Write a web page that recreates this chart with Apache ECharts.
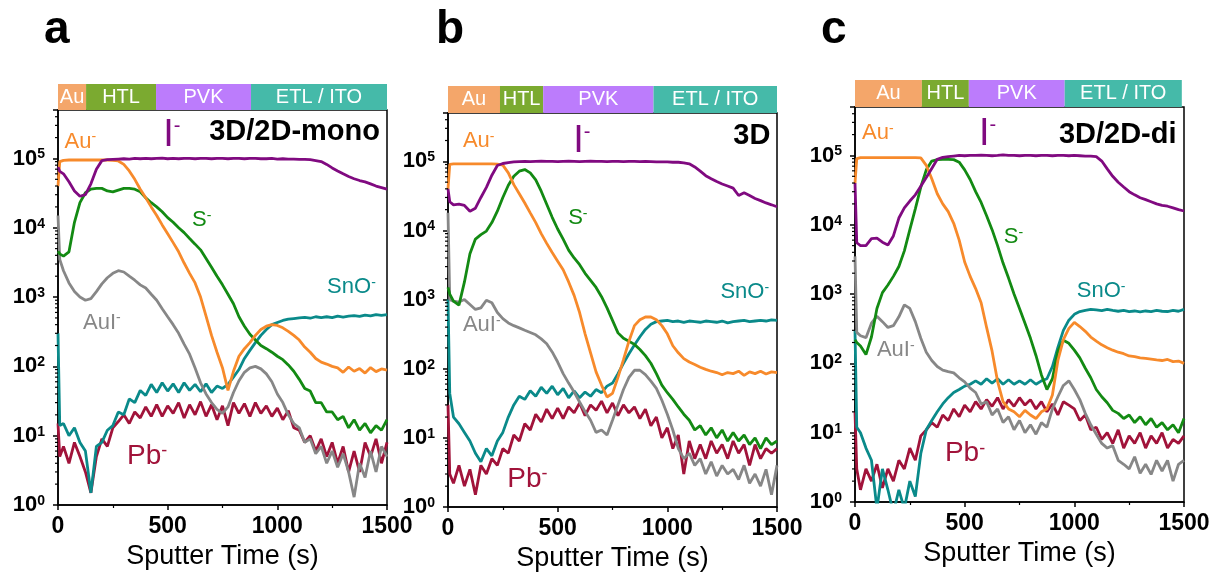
<!DOCTYPE html>
<html><head><meta charset="utf-8">
<script src="https://cdn.jsdelivr.net/npm/echarts@6/dist/echarts.min.js"></script>
<style>html,body{margin:0;padding:0;background:#fff}#chart{width:1213px;height:575px}</style>
</head><body><div id="chart"></div>
<script>
// ---------------- DATA ----------------
const timeS = [0, 8,
  25, 50, 75, 100, 125, 150, 175, 200, 225, 250,
  275, 300, 325, 350, 375, 400, 425, 450, 475, 500,
  525, 550, 575, 600, 625, 650, 675, 700, 725, 750,
  775, 800, 825, 850, 875, 900, 925, 950, 975, 1000,
  1025, 1050, 1075, 1100, 1125, 1150, 1175, 1200, 1225, 1250,
  1275, 1300, 1325, 1350, 1375, 1400, 1425, 1450, 1475, 1500];

const ions = ['Pb', 'SnO', 'AuI', 'S', 'Au', 'I'];
const layerNames = ['Au', 'HTL', 'PVK', 'ETL / ITO'];
const panelLetters = ['a', 'b', 'c'];
const panelTitles = ['3D/2D-mono', '3D', '3D/2D-di'];
const xTickStep = 500;
const yTickExps = [0, 1, 2, 3, 4, 5];
const minorTickVals = [2,3,4,5,6,7,8,9, 20,30,40,50,60,70,80,90, 200,300,400,500,600,700,800,900,
  2e3,3e3,4e3,5e3,6e3,7e3,8e3,9e3, 2e4,3e4,4e4,5e4,6e4,7e4,8e4,9e4, 2e5,3e5,4e5];

// layer boundaries (s)
const aLayers = [0, 128, 447, 880, 1500];
const bLayers = [0, 237, 434, 937, 1500];
const cLayers = [0, 305, 519, 956, 1490];

// ---- panel a : 3D/2D-mono ----
const aPb = [15, 5,
  7, 4, 8, 5, 3, 1.5, 5, 9, 7, 13,
  16, 20, 15, 22, 18, 26, 19, 28, 19, 27,
  21, 30, 18, 28, 20, 31, 19, 28, 17, 27,
  14, 30, 21, 29, 19, 30, 21, 27, 19, 25,
  17, 23, 13, 12, 8, 10, 6, 9, 5, 8,
  4, 7, 3, 6, 3, 8, 5, 9, 4, 8];
const aSnO = [300, 14,
  15, 10, 13, 8, 6, 1.5, 7, 8, 12, 14,
  22, 20, 34, 30, 45, 38, 55, 42, 58, 44,
  56, 42, 58, 45, 55, 43, 56, 42, 52, 48,
  55, 70, 90, 130, 170, 220, 280, 340, 400, 430,
  460, 480, 490, 500, 510, 495, 520, 505, 520, 505,
  530, 515, 530, 540, 525, 550, 535, 560, 545, 560];
const aAuI = [1.5e4, 3.5e3,
  2.4e3, 1.6e3, 1.2e3, 1.0e3, 900, 950, 1.2e3, 1.55e3, 1.9e3, 2.2e3,
  2.4e3, 2.3e3, 2.0e3, 1.75e3, 1.5e3, 1.35e3, 1.1e3, 900, 680, 520,
  400, 300, 210, 150, 95, 58, 40, 30, 24, 21,
  26, 42, 62, 82, 95, 100, 92, 78, 60, 40,
  30, 20, 15, 13, 8, 9, 5.5, 7, 4, 6,
  3.5, 5.5, 3, 1.3, 4, 2.5, 6, 3, 7, 5];
const aS = [4.6e3, 4.2e3,
  3.9e3, 4.5e3, 1.2e4, 2.3e4, 3.2e4, 3.6e4, 3.7e4, 3.7e4, 3.4e4, 3.3e4,
  3.5e4, 3.7e4, 3.7e4, 3.6e4, 3.3e4, 2.7e4, 2.3e4, 2.0e4, 1.7e4, 1.4e4,
  1.2e4, 1.0e4, 8.5e3, 7.0e3, 5.8e3, 4.8e3, 3.6e3, 2.7e3, 2.0e3, 1.5e3,
  1.1e3, 800, 520, 380, 290, 240, 200, 180, 160, 140,
  125, 105, 85, 65, 48, 44, 30, 30, 22, 22,
  17, 19, 13, 17, 12, 15, 11, 14, 12, 17];
const aAu = [4e4, 9.0e4,
  9.4e4, 9.5e4, 9.5e4, 9.5e4, 9.5e4, 9.5e4, 9.5e4, 9.5e4, 9.5e4, 9.4e4,
  9.2e4, 8.2e4, 6.6e4, 5.0e4, 3.6e4, 2.7e4, 2.0e4, 1.5e4, 1.1e4, 8.2e3,
  6.1e3, 4.5e3, 3.1e3, 2.2e3, 1.6e3, 1.0e3, 530, 280, 160, 95,
  45, 85, 140, 180, 220, 280, 340, 380, 400, 390,
  360, 320, 280, 240, 190, 160, 130, 115, 108, 100,
  95, 82, 98, 85, 93, 80, 96, 84, 92, 88];
const aI = [7.5e4, 6.5e4,
  6.0e4, 4.6e4, 3.4e4, 2.85e4, 3.0e4, 4.3e4, 7.0e4, 9.3e4, 9.6e4, 9.7e4,
  9.8e4, 9.9e4, 9.8e4, 1.0e5, 9.9e4, 1.0e5, 9.9e4, 1.0e5, 1.01e5, 9.9e4,
  1.0e5, 9.9e4, 1.0e5, 1.0e5, 9.9e4, 1.0e5, 1.0e5, 9.9e4, 1.0e5, 1.0e5,
  9.9e4, 1.0e5, 1.0e5, 9.9e4, 1.0e5, 1.0e5, 9.9e4, 9.9e4, 1.0e5, 9.8e4,
  9.9e4, 9.8e4, 9.8e4, 9.7e4, 9.7e4, 9.6e4, 9.3e4, 9.0e4, 8.2e4, 7.3e4,
  6.6e4, 6.0e4, 5.5e4, 5.1e4, 4.8e4, 4.6e4, 4.3e4, 4.0e4, 3.8e4, 3.6e4];

// ---- panel b : 3D ----
const bPb = [30, 3,
  2.2, 4, 2, 3.5, 1.5, 4, 3, 5, 4, 7,
  6, 11, 9, 16, 13, 22, 17, 26, 19, 27,
  19, 28, 23, 32, 21, 30, 25, 34, 23, 32,
  21, 30, 23, 28, 19, 26, 15, 20, 10, 14,
  7, 11, 3, 9, 5, 8, 5, 9, 6, 8,
  5, 9, 6, 8, 4, 8, 5, 7, 6, 7];
const bSnO = [1000, 44,
  20, 16, 12, 9, 6, 4.5, 7, 5.5, 9, 12,
  20, 30, 40, 36, 48, 40, 54, 44, 56, 42,
  52, 38, 48, 38, 46, 40, 50, 45, 56, 62,
  85, 120, 165, 220, 290, 370, 440, 480, 490, 500,
  480, 490, 470, 490, 480, 470, 490, 480, 470, 490,
  460, 480, 490, 500, 480, 490, 500, 490, 510, 500];
const bAuI = [1.8e4, 1.0e3,
  950, 920, 1.0e3, 850, 720, 760, 980, 900, 650, 530,
  460, 420, 390, 360, 335, 310, 270, 230, 175, 125,
  85, 62, 46, 33, 24, 18, 12, 13, 11, 18,
  30, 50, 75, 95, 95, 82, 66, 52, 35, 22,
  13, 7, 5, 6, 4, 5, 3, 4.5, 2.8, 4,
  3, 3.5, 2.5, 4, 2.2, 3, 2, 3.5, 1.5, 4];
const bS = [1.5e3, 1.2e3,
  950, 830, 1.8e3, 4.6e3, 7.5e3, 8.7e3, 9.8e3, 1.3e4, 1.9e4, 3.0e4,
  4.5e4, 6.1e4, 7.2e4, 7.6e4, 6.8e4, 5.4e4, 3.7e4, 2.4e4, 1.55e4, 1.05e4,
  7.5e3, 5.2e3, 4.0e3, 3.2e3, 2.4e3, 1.9e3, 1.5e3, 1.1e3, 760, 500,
  330, 275, 250, 225, 190, 155, 120, 85, 58, 45,
  36, 28, 22, 18, 13, 15, 11, 14, 10, 13,
  9, 12, 9, 11, 8, 10, 7, 10, 8, 9];
const bAu = [4e4, 9.0e4,
  9.2e4, 9.2e4, 9.2e4, 9.2e4, 9.2e4, 9.2e4, 9.2e4, 9.2e4, 9.1e4, 8.8e4,
  6.8e4, 4.6e4, 3.4e4, 2.5e4, 1.8e4, 1.3e4, 9.0e3, 6.5e3, 4.8e3, 3.6e3,
  2.7e3, 1.8e3, 1.15e3, 650, 320, 170, 90, 58, 39, 44,
  75, 135, 250, 420, 510, 560, 560, 510, 420, 320,
  215, 170, 140, 125, 115, 105, 98, 92, 88, 82,
  88, 85, 92, 80, 90, 85, 92, 84, 90, 88];
const bI = [4e4, 2.6e4,
  2.35e4, 2.4e4, 2.3e4, 1.9e4, 2.1e4, 3.0e4, 4.2e4, 6.3e4, 8.7e4, 9.3e4,
  9.6e4, 9.8e4, 9.9e4, 1.0e5, 9.9e4, 1.0e5, 1.01e5, 1.0e5, 1.0e5, 9.9e4,
  1.0e5, 1.01e5, 1.0e5, 9.9e4, 1.0e5, 1.01e5, 1.0e5, 1.0e5, 9.9e4, 1.0e5,
  1.0e5, 9.9e4, 1.0e5, 1.0e5, 9.9e4, 1.0e5, 9.9e4, 9.8e4, 9.8e4, 9.8e4,
  9.7e4, 9.7e4, 9.5e4, 9.2e4, 8.3e4, 7.2e4, 6.2e4, 5.6e4, 5.1e4, 4.7e4,
  4.4e4, 4.1e4, 3.2e4, 3.5e4, 3.2e4, 2.9e4, 2.7e4, 2.5e4, 2.35e4, 2.2e4];

// ---- panel c : 3D/2D-di ----
const cPb = [20, 3,
  1.5, 3, 2, 3.5, 1.6, 3, 2, 4, 3, 6,
  4, 9, 11, 14, 12, 18, 15, 22, 17, 25,
  20, 28, 22, 30, 24, 32, 22, 30, 24, 32,
  25, 30, 22, 28, 20, 26, 18, 28, 25, 22,
  15, 18, 11, 12, 8, 10, 7, 11, 6, 9,
  7, 10, 6, 9, 7, 10, 6, 8, 7, 9];
const cSnO = [300, 12,
  10, 6, 4, 0.8, 3, 1.5, 0.7, 1.5, 0.8, 2,
  1.2, 5, 11, 15, 20, 26, 32, 38, 42, 47,
  50, 56, 50, 60, 52, 60, 50, 58, 50, 56,
  50, 58, 50, 56, 60, 90, 170, 300, 420, 510,
  560, 580, 600, 590, 575, 600, 580, 565, 580, 560,
  570, 555, 570, 560, 580, 565, 560, 580, 565, 600];
const cAuI = [3.5e3, 280,
  250, 235, 380, 480, 400, 330, 350, 470, 700, 620,
  400, 230, 145, 110, 90, 80, 76, 73, 62, 54,
  44, 38, 26, 28, 18, 22, 14, 17, 11, 15,
  10, 13, 9.5, 14, 12, 22, 33, 48, 56, 42,
  30, 19, 13, 9.5, 7, 6, 6.5, 4, 3.5, 3,
  4.5, 2.6, 3.5, 2.5, 4, 2.8, 4, 2, 3.5, 4];
const cS = [220, 200,
  178, 134, 240, 620, 1.05e3, 1.35e3, 1.8e3, 2.5e3, 4.2e3, 8.5e3,
  1.7e4, 3.5e4, 6.2e4, 8.3e4, 8.7e4, 8.8e4, 8.8e4, 8.7e4, 8.0e4, 6.2e4,
  4.5e4, 3.0e4, 2.1e4, 1.35e4, 8.5e3, 5.0e3, 2.8e3, 1.7e3, 1.0e3, 620,
  380, 230, 130, 68, 42, 60, 150, 215, 195, 155,
  120, 85, 62, 42, 33, 27, 21, 19, 16, 18,
  14, 17, 13, 16, 12, 14, 11, 13, 10, 16];
const cAu = [4e4, 9.0e4,
  9.3e4, 9.3e4, 9.3e4, 9.3e4, 9.3e4, 9.3e4, 9.3e4, 9.3e4, 9.3e4, 9.3e4,
  9.3e4, 9.2e4, 7.2e4, 4.6e4, 2.8e4, 2.0e4, 1.55e4, 1.05e4, 6.0e3, 2.9e3,
  1.8e3, 1.2e3, 750, 330, 150, 55, 28, 22, 20, 17,
  21, 18, 16, 20, 22, 35, 110, 220, 320, 390,
  340, 290, 240, 210, 185, 168, 155, 145, 138, 128,
  125, 120, 118, 115, 112, 110, 114, 106, 108, 100];
const cI = [4e4, 5.5e3,
  5.0e3, 5.0e3, 6.3e3, 6.4e3, 5.6e3, 5.1e3, 6.9e3, 1.25e4, 1.75e4, 2.2e4,
  2.7e4, 3.6e4, 4.8e4, 6.5e4, 8.8e4, 9.4e4, 9.6e4, 9.8e4, 1.0e5, 9.9e4,
  1.0e5, 1.0e5, 1.01e5, 1.0e5, 9.9e4, 1.0e5, 1.02e5, 1.0e5, 1.0e5, 9.9e4,
  1.0e5, 1.0e5, 9.9e4, 1.0e5, 1.0e5, 9.9e4, 1.0e5, 1.0e5, 9.9e4, 1.0e5,
  9.9e4, 9.8e4, 9.8e4, 9.6e4, 8.3e4, 6.4e4, 5.0e4, 4.1e4, 3.5e4, 3.0e4,
  2.7e4, 2.45e4, 2.3e4, 2.15e4, 2.0e4, 1.9e4, 1.85e4, 1.75e4, 1.65e4, 1.58e4];

// label anchor points [time, counts] (order follows `ions`), and panel-title anchor
const aLabelPos = [[315, 5.1], [1227, 1.4e3], [114, 430], [611, 1.3e4], [30, 1.75e5], [480, 2.15e5]];
const bLabelPos = [[270, 2.5], [1242, 1.3e3], [68, 430], [548, 1.5e4], [68, 1.95e5], [571, 1.95e5]];
const cLabelPos = [[410, 5.0], [1011, 1.1e3], [100, 155], [678, 6.6e3], [32, 2.1e5], [565, 2.0e5]];
const titlePos = [[1468, 2.4e5], [1470, 2.3e5], [1466, 2.0e5]];

// ---------------- STYLE ----------------
const FONT = '"Liberation Sans", Arial, Helvetica, sans-serif';
const ionColors = { Pb: '#A1133A', SnO: '#0A8A8A', AuI: '#878787', S: '#138A13', Au: '#F78A2B', I: '#800A80' };
const labelSize = { Pb: 28, SnO: 22, AuI: 22, S: 22, Au: 22, I: 38 };
const supSize = { Pb: 18, SnO: 14, AuI: 14, S: 14, Au: 14, I: 20 };
const layerColors = ['#F4A66A', '#7BAA30', '#BC7CFC', '#45BAA9'];

const panels = [
  { plot: [58, 110, 329, 395], bar: [58, 84, 329, 26], layers: aLayers,
    values: [aPb, aSnO, aAuI, aS, aAu, aI], labels: aLabelPos },
  { plot: [448, 113, 329, 394], bar: [448, 86, 329, 27], layers: bLayers,
    values: [bPb, bSnO, bAuI, bS, bAu, bI], labels: bLabelPos },
  { plot: [855, 107, 329, 395], bar: [855, 80, 329, 27], layers: cLayers,
    values: [cPb, cSnO, cAuI, cS, cAu, cI], labels: cLabelPos }
];
const letterX = [44, 436, 821];

const grids = [], xAxes = [], yAxes = [], series = [];
const warnings = [];

function yLabel(v) {
  const e = Math.log10(v);
  const r = Math.round(e);
  if (Math.abs(e - r) > 1e-6 || yTickExps.indexOf(r) < 0) return '';
  return '{b|10}{s|' + r + '}';
}

panels.forEach((p, i) => {
  grids.push({ left: p.plot[0], top: p.plot[1], width: p.plot[2], height: p.plot[3],
    show: true, borderColor: '#000', borderWidth: 1.5, backgroundColor: 'transparent',
    containLabel: false, outerBoundsMode: 'none' });
  xAxes.push({ type: 'value', gridIndex: i, min: 0, max: 1500, interval: xTickStep,
    axisLine: { show: true, onZero: false, lineStyle: { color: '#000', width: 1.5 } },
    axisTick: { show: true, inside: false, length: 5, lineStyle: { color: '#000', width: 1.5 } },
    minorTick: { show: true, splitNumber: 2, length: 3, lineStyle: { color: '#000', width: 1.2 } },
    splitLine: { show: false }, minorSplitLine: { show: false },
    axisLabel: { show: true, fontSize: 23, fontWeight: 'bold', color: '#000', fontFamily: FONT, margin: 10,
      formatter: v => String(v) },
    name: 'Sputter Time (s)', nameLocation: 'middle', nameGap: 38,
    nameTextStyle: { fontSize: 27, color: '#000', fontFamily: FONT } });
  yAxes.push({ type: 'log', logBase: 10, gridIndex: i, min: 1, max: 5e5, splitNumber: 5,
    axisLine: { show: true, onZero: false, lineStyle: { color: '#000', width: 1.5 } },
    axisTick: { show: true, inside: false, length: 5, lineStyle: { color: '#000', width: 1.5 } },
    splitLine: { show: false },
    axisLabel: { show: true, margin: 13, formatter: yLabel,
      rich: {
        b: { fontSize: 22, fontWeight: 'bold', color: '#000', fontFamily: FONT },
        s: { fontSize: 14, fontWeight: 'bold', color: '#000', fontFamily: FONT, verticalAlign: 'top', lineHeight: 12 }
      } } });
});
panels.forEach((p, i) => {
  grids.push({ left: p.bar[0], top: p.bar[1], width: p.bar[2], height: p.bar[3], show: false,
    containLabel: false, outerBoundsMode: 'none' });
  xAxes.push({ type: 'value', gridIndex: 3 + i, min: 0, max: 1500, show: false });
  yAxes.push({ type: 'value', gridIndex: 3 + i, min: 0, max: 1, show: false });
});

panels.forEach((p, i) => {
  ions.forEach((ion, k) => {
    const vals = p.values[k];
    if (vals.length !== timeS.length) warnings.push(panelLetters[i] + ion + ':' + vals.length);
    const col = ionColors[ion];
    const mpData = [{
      coord: p.labels[k], value: 0,
      label: { show: true, position: 'inside', align: 'left', verticalAlign: 'middle',
        formatter: '{m|' + ion + '}{s|-}',
        rich: {
          m: { fontSize: labelSize[ion], color: col, fontFamily: FONT },
          s: { fontSize: supSize[ion], color: col, fontFamily: FONT, verticalAlign: 'top', lineHeight: 8 }
        } }
    }];
    if (ion === 'I') {
      mpData.push({ coord: titlePos[i], value: 0,
        label: { show: true, position: 'inside', align: 'right', verticalAlign: 'middle',
          formatter: panelTitles[i], fontSize: 29, fontWeight: 'bold', color: '#000', fontFamily: FONT } });
    }
    series.push({
      type: 'line', xAxisIndex: i, yAxisIndex: i, z: 2 + k,
      data: timeS.map((t, j) => [t, vals[j]]),
      showSymbol: false, symbol: 'none', silent: true, animation: false, clip: true,
      lineStyle: { color: col, width: 2.8 }, itemStyle: { color: col },
      emphasis: { disabled: true },
      markPoint: { symbol: 'circle', symbolSize: 1, silent: true, animation: false,
        itemStyle: { color: 'rgba(0,0,0,0)' }, data: mpData }
    });
  });
  // log-axis minor ticks
  series.push({
    type: 'custom', xAxisIndex: i, yAxisIndex: i, clip: false, silent: true, animation: false, z: 10,
    data: minorTickVals.map(v => [0, v]), encode: { x: 0, y: 1 },
    renderItem: (params, api) => {
      const c = api.coord([0, api.value(1)]);
      return { type: 'line', shape: { x1: c[0] - 3, y1: c[1], x2: c[0], y2: c[1] },
        style: { stroke: '#000', lineWidth: 1.2 } };
    }
  });
  // layer bar
  const b = p.layers;
  series.push({
    type: 'line', xAxisIndex: 3 + i, yAxisIndex: 3 + i, data: [[0, 0]], symbol: 'none', silent: true, animation: false,
    lineStyle: { opacity: 0 },
    markArea: { silent: true, animation: false,
      label: { show: true, position: 'inside', color: '#fff', fontSize: 20, fontFamily: FONT },
      data: layerNames.map((nm, k) => [
        { name: nm, xAxis: b[k], itemStyle: { color: layerColors[k], opacity: 1, borderWidth: 0 } },
        { xAxis: b[k + 1] }
      ]) }
  });
});

const graphic = panelLetters.map((L, i) => ({
  type: 'text', x: letterX[i], y: 30,
  style: { text: L, fontSize: 46, fontWeight: 'bold', fontFamily: FONT, fill: '#000', verticalAlign: 'middle' }
}));
if (warnings.length) graphic.push({ type: 'text', x: 500, y: 10, style: { text: 'LEN ' + warnings.join(' '), fill: 'red', fontSize: 14 } });

const chart = echarts.init(document.getElementById('chart'), null, { renderer: 'canvas' });
chart.setOption({
  animation: false, backgroundColor: '#fff',
  grid: grids, xAxis: xAxes, yAxis: yAxes, series: series, graphic: graphic
});
</script>
</body></html>
